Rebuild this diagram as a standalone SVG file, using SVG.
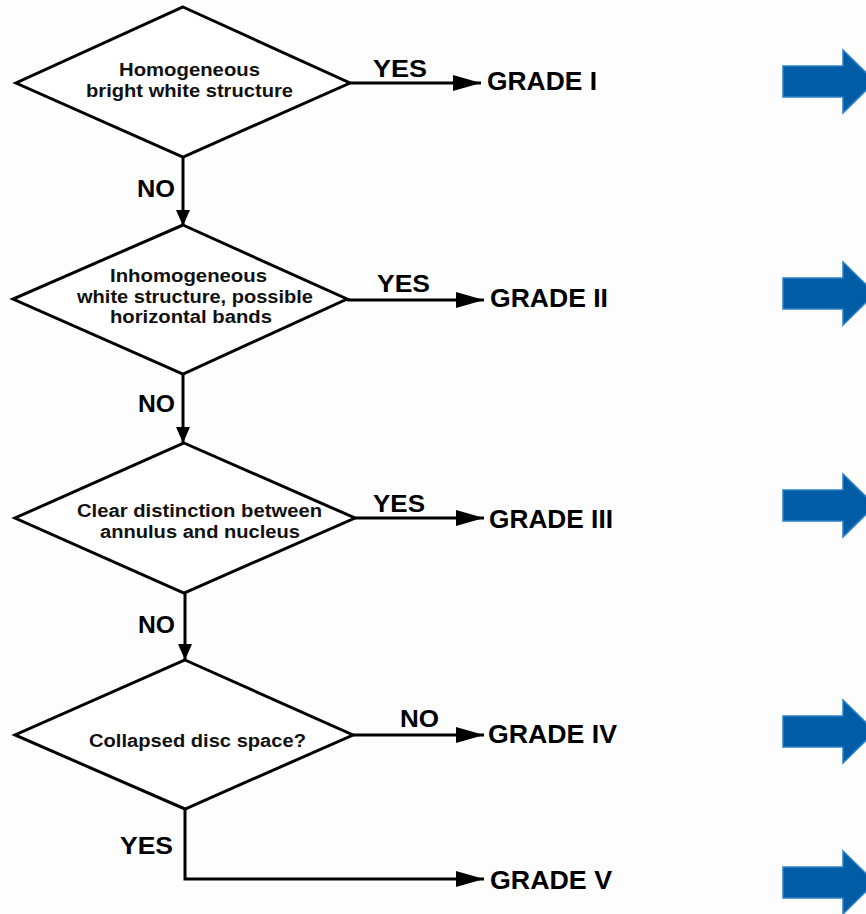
<svg xmlns="http://www.w3.org/2000/svg" width="866" height="914" viewBox="0 0 866 914">
<defs>
<style>
.d{fill:#fff;stroke:#000;stroke-width:3;stroke-linejoin:miter}
.c{fill:none;stroke:#000;stroke-width:3}
.t{font-family:"Liberation Sans",Arial,sans-serif;font-weight:bold;fill:#111;font-size:18px}
.l{font-family:"Liberation Sans",Arial,sans-serif;font-weight:bold;fill:#000;font-size:23px}
.g{font-family:"Liberation Sans",Arial,sans-serif;font-weight:bold;fill:#000;font-size:25px}
.b{fill:#005ca4;stroke:#2a80cc;stroke-width:1.5}
</style>
<marker id="ah" markerUnits="userSpaceOnUse" markerWidth="28" markerHeight="16" refX="28" refY="8" orient="auto"><path d="M0,0 L28,8 L0,16 z" fill="#000"/></marker>
<marker id="av" markerUnits="userSpaceOnUse" markerWidth="16" markerHeight="14" refX="16" refY="7" orient="auto"><path d="M0,0 L16,7 L0,14 z" fill="#000"/></marker>
<path id="blue" d="M0,-15.5 H60 V-31.5 L92,0 L60,31.5 V15.5 H0 z"/>
</defs>
<rect width="866" height="914" fill="#fdfdfd"/>
<g id="connectors">
<line class="c" x1="183" y1="157" x2="183" y2="226" marker-end="url(#av)"/>
<line class="c" x1="183" y1="374" x2="183" y2="443" marker-end="url(#av)"/>
<line class="c" x1="185" y1="593" x2="185" y2="660" marker-end="url(#av)"/>
<line class="c" x1="350" y1="83" x2="481" y2="83" marker-end="url(#ah)"/>
<line class="c" x1="347" y1="300" x2="484" y2="300" marker-end="url(#ah)"/>
<line class="c" x1="355" y1="518" x2="484" y2="518" marker-end="url(#ah)"/>
<line class="c" x1="353" y1="735" x2="484" y2="735" marker-end="url(#ah)"/>
<polyline class="c" points="185,809 185,879 484,879" marker-end="url(#ah)"/>
<text class="l" x="373" y="77" textLength="54" lengthAdjust="spacingAndGlyphs">YES</text>
<text class="l" x="377" y="292" textLength="53" lengthAdjust="spacingAndGlyphs">YES</text>
<text class="l" x="373" y="512" textLength="52" lengthAdjust="spacingAndGlyphs">YES</text>
<text class="l" x="400" y="727" textLength="39" lengthAdjust="spacingAndGlyphs">NO</text>
<text class="l" x="137" y="197" textLength="38" lengthAdjust="spacingAndGlyphs">NO</text>
<text class="l" x="138" y="412" textLength="37" lengthAdjust="spacingAndGlyphs">NO</text>
<text class="l" x="138" y="633" textLength="37" lengthAdjust="spacingAndGlyphs">NO</text>
<text class="l" x="120" y="854" textLength="53" lengthAdjust="spacingAndGlyphs">YES</text>
</g>
<g id="d1">
<polygon class="d" points="183,7 350,83 183,157 16,83"/>
<text class="t" x="119" y="76" textLength="141" lengthAdjust="spacingAndGlyphs">Homogeneous</text>
<text class="t" x="86" y="97" textLength="207" lengthAdjust="spacingAndGlyphs">bright white structure</text>
</g>
<g id="d2">
<polygon class="d" points="183,225 347,299 183,374 13,299"/>
<text class="t" x="110" y="282" textLength="157" lengthAdjust="spacingAndGlyphs">Inhomogeneous</text>
<text class="t" x="77" y="303" textLength="236" lengthAdjust="spacingAndGlyphs">white structure, possible</text>
<text class="t" x="110" y="323" textLength="162" lengthAdjust="spacingAndGlyphs">horizontal bands</text>
</g>
<g id="d3">
<polygon class="d" points="184,443 355,518 184,593 15,518"/>
<text class="t" x="77" y="517" textLength="245" lengthAdjust="spacingAndGlyphs">Clear distinction between</text>
<text class="t" x="100" y="538" textLength="200" lengthAdjust="spacingAndGlyphs">annulus and nucleus</text>
</g>
<g id="d4">
<polygon class="d" points="185,660 353,735 185,809 15,735"/>
<text class="t" x="89" y="747" textLength="217" lengthAdjust="spacingAndGlyphs">Collapsed disc space?</text>
</g>
<g id="g1"><text class="g" x="487" y="90" textLength="110" lengthAdjust="spacingAndGlyphs">GRADE I</text></g>
<g id="g2"><text class="g" x="490" y="307" textLength="118" lengthAdjust="spacingAndGlyphs">GRADE II</text></g>
<g id="g3"><text class="g" x="489" y="528" textLength="124" lengthAdjust="spacingAndGlyphs">GRADE III</text></g>
<g id="g4"><text class="g" x="488" y="743" textLength="129" lengthAdjust="spacingAndGlyphs">GRADE IV</text></g>
<g id="g5"><text class="g" x="490" y="889" textLength="122" lengthAdjust="spacingAndGlyphs">GRADE V</text></g>
<g id="arrows">
<use href="#blue" class="b" x="783" y="81.5"/>
<use href="#blue" class="b" x="783" y="293.5"/>
<use href="#blue" class="b" x="783" y="505.5"/>
<use href="#blue" class="b" x="783" y="731.5"/>
<use href="#blue" class="b" x="783" y="882.5"/>
</g>
</svg>
